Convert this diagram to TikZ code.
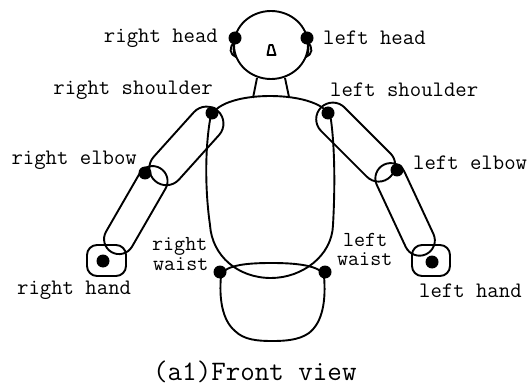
\documentclass[tikz,border=0pt]{standalone}
\usepackage{fontspec}
% a limb: stadium outline centred at (#1,#2), turned by #3 degrees,
% half length #4 and half width #5
\newcommand\limb[5]{%
  \begin{scope}[shift={(#1,#2)},rotate=#3]
    \draw[body,rounded corners=#5pt] (-#4,-#5) rectangle (#4,#5);
  \end{scope}}
\begin{document}
\begin{tikzpicture}[x=1pt,y=-1pt,
  body/.style={line width=1.9pt,line join=round},
  joint/.style={circle,fill=black,inner sep=0pt,minimum size=13pt},
  lbl/.style={inner sep=0pt,font=\ttfamily\fontsize{22.1}{24}\selectfont},
  wlbl/.style={inner sep=0pt,font=\ttfamily\fontsize{21.4}{24}\selectfont},
  captext/.style={inner sep=0pt,font=\ttfamily\fontsize{28.2}{30}\selectfont}]
\path[use as bounding box] (0,0) rectangle (532,387);

% head, nose, ears and neck
\draw[body] (271,45) ellipse [x radius=37,y radius=34];
\draw[body] (269.5,45) -- (272.5,45) -- (275.5,55) -- (267.5,55) -- cycle;
\draw[body] (235,42) .. controls (228,47) and (230,55) .. (236,57)
            .. controls (233,52) and (233,47) .. (235,42);
\draw[body] (307,42) .. controls (314,47) and (312,55) .. (306,57)
            .. controls (309,52) and (309,47) .. (307,42);
\draw[body] (257,78) -- (253,98);
\draw[body] (285,78) -- (289,97);

% trunk
\draw[body] (210,120) .. controls (212,104) and (240,96) .. (270,96)
  .. controls (300,96) and (329,104) .. (331,120)
  .. controls (335,150) and (335,190) .. (333,225)
  .. controls (332,256) and (302,278) .. (271,278)
  .. controls (238,278) and (212,256) .. (210,225)
  .. controls (205,190) and (205,150) .. (210,120) -- cycle;

% pelvis
\draw[body] (221,276) .. controls (224,264) and (252,263) .. (272,263)
  .. controls (294,263) and (321,265) .. (324,276)
  .. controls (326,300) and (323,322) .. (309,333)
  .. controls (299,340) and (286,341) .. (272,341)
  .. controls (258,341) and (244,340) .. (235,331)
  .. controls (222,320) and (219,298) .. (221,276) -- cycle;

% arms
\limb{186.4}{145.9}{48}{47}{17}
\limb{135.8}{210.1}{60}{48.5}{15}
\limb{355.7}{142.1}{-45}{49}{16.6}
\limb{405.1}{209.4}{-65}{49.5}{15.3}

% hands
\draw[body,rounded corners=10pt] (87,245) rectangle (126,276);
\draw[body,rounded corners=10pt] (412,245) rectangle (450,276);

% joints
\node[joint] (rhead) at (235,38) {};
\node[joint] (lhead) at (307,38) {};
\node[joint] (rshoulder) at (212,113) {};
\node[joint] (lshoulder) at (328,113) {};
\node[joint] (relbow) at (145,173) {};
\node[joint] (lelbow) at (397,170) {};
\node[joint] (rhand) at (103,261) {};
\node[joint] (lhand) at (432,262) {};
\node[joint] (rwaist) at (220,272) {};
\node[joint] (lwaist) at (325,272) {};

% labels
\node[lbl,anchor=base east] (trhead) at (218,43) {right head};
\node[lbl,anchor=base west] (tlhead) at (323,45) {left head};
\node[lbl,anchor=base east] (trshoulder) at (213,95) {right shoulder};
\node[lbl,anchor=base west] (tlshoulder) at (330,97) {left shoulder};
\node[lbl,anchor=base east] (trelbow) at (137,165) {right elbow};
\node[lbl,anchor=base west] (tlelbow) at (413,170) {left elbow};
\node[lbl,anchor=base west] (trhand) at (17,294) {right hand};
\node[lbl,anchor=base west] (tlhand) at (419,297) {left hand};
\node[wlbl,anchor=base west] (trwaistA) at (152,250) {right};
\node[wlbl,anchor=base west] (trwaistB) at (153,270) {waist};
\node[wlbl,anchor=base west] (tlwaistA) at (343,246) {left};
\node[wlbl,anchor=base west] (tlwaistB) at (337,265.5) {waist};
\node[captext,anchor=base west] (caption) at (153,380) {(a1)Front view};
\end{tikzpicture}
\end{document}
